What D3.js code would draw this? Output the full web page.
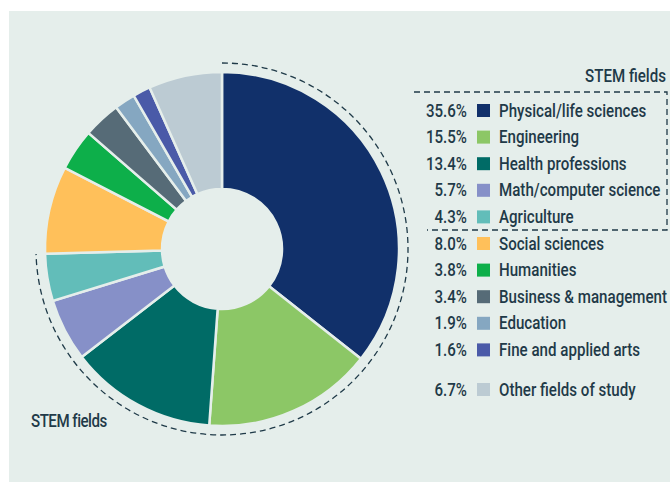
<!DOCTYPE html>
<html>
<head>
<meta charset="utf-8">
<script src="https://cdn.jsdelivr.net/npm/d3@7"></script>
<style>
  body { margin: 0; background: #fff; }
  text { font-family: Roboto, "DejaVu Sans", sans-serif; fill: #1f3a48; font-weight: 500; }
</style>
</head>
<body>
<div id="chart"></div>
<script>
// fields of study, clockwise from 12 o'clock
var fields = ["Physical/life sciences", "Engineering", "Health professions", "Math/computer science",
  "Agriculture", "Social sciences", "Humanities", "Business & management", "Education",
  "Fine and applied arts", "Other fields of study"];
var shares = [35.6, 15.5, 13.4, 5.7, 4.3, 8.0, 3.8, 3.4, 1.9, 1.6, 6.7];
var colours = ["#11306a", "#8cc766", "#006b66", "#8690c8", "#62bdb9", "#ffc05a",
  "#0daf4a", "#566b77", "#85a7c1", "#4a5aa8", "#bccbd3"];
var stemCount = 5;

var width = 670, height = 482, bg = "#e5eeeb";
var cx = 222, cy = 249, rOuter = 177, rInner = 60;
var fs = 18, squeeze = 0.84;

var svg = d3.select("#chart").append("svg")
    .attr("width", width)
    .attr("height", height);

svg.append("rect")
    .attr("x", 9).attr("y", 11)
    .attr("width", width - 9).attr("height", height - 11)
    .attr("fill", bg);

var pie = d3.pie().sort(null).value(function(d) { return d; });
var arcs = pie(shares);

var arc = d3.arc().innerRadius(rInner).outerRadius(rOuter);

var g = svg.append("g").attr("transform", "translate(" + cx + "," + cy + ")");

g.selectAll("path.slice")
    .data(arcs)
  .enter().append("path")
    .attr("class", "slice")
    .attr("d", arc)
    .attr("fill", function(d, i) { return colours[i]; })
    .attr("stroke", bg)
    .attr("stroke-width", 2.5);

// dashed bracket round the STEM slices
var stemEnd = arcs[stemCount - 1].endAngle;
var bracket = d3.path();
bracket.moveTo(0, -186);
bracket.arc(0, 0, 186, -Math.PI / 2, stemEnd - Math.PI / 2);
g.append("path")
    .attr("d", bracket.toString())
    .attr("fill", "none")
    .attr("stroke", "#1f3a48")
    .attr("stroke-width", 1.3)
    .attr("stroke-dasharray", "6,4");

svg.append("text")
    .attr("transform", "translate(31,427) scale(0.84,1)")
    .attr("font-size", fs)
    .attr("letter-spacing", -0.6)
    .text("STEM fields");

// legend
var rowY = d3.scaleLinear().domain([0, 1]).range([110, 136.6]);
var legend = svg.append("g");

var rows = legend.selectAll("g.row")
    .data(fields)
  .enter().append("g")
    .attr("class", "row")
    .attr("transform", function(d, i) {
      var y = rowY(i) + (i == fields.length - 1 ? 13 : 0);
      return "translate(0," + y + ")";
    });

rows.append("text")
    .attr("transform", "translate(467,6.5) scale(" + squeeze + ",1)")
    .attr("text-anchor", "end")
    .attr("font-size", fs)
    .text(function(d, i) { return shares[i].toFixed(1) + "%"; });

rows.append("rect")
    .attr("x", 477).attr("y", -6)
    .attr("width", 13).attr("height", 13)
    .attr("fill", function(d, i) { return colours[i]; });

rows.append("text")
    .attr("transform", "translate(499,6.5) scale(" + squeeze + ",1)")
    .attr("font-size", fs)
    .text(function(d) { return d; });

svg.append("text")
    .attr("transform", "translate(666,82) scale(" + squeeze + ",1)")
    .attr("text-anchor", "end")
    .attr("font-size", fs)
    .text("STEM fields");

var boxTop = 92, boxBottom = 230, boxRight = 667;
svg.append("path")
    .attr("d", "M414," + boxTop + "H" + boxRight + "V" + boxBottom + "H427")
    .attr("fill", "none")
    .attr("stroke", "#1f3a48")
    .attr("stroke-width", 1.3)
    .attr("stroke-dasharray", "6,4");
</script>
</body>
</html>
